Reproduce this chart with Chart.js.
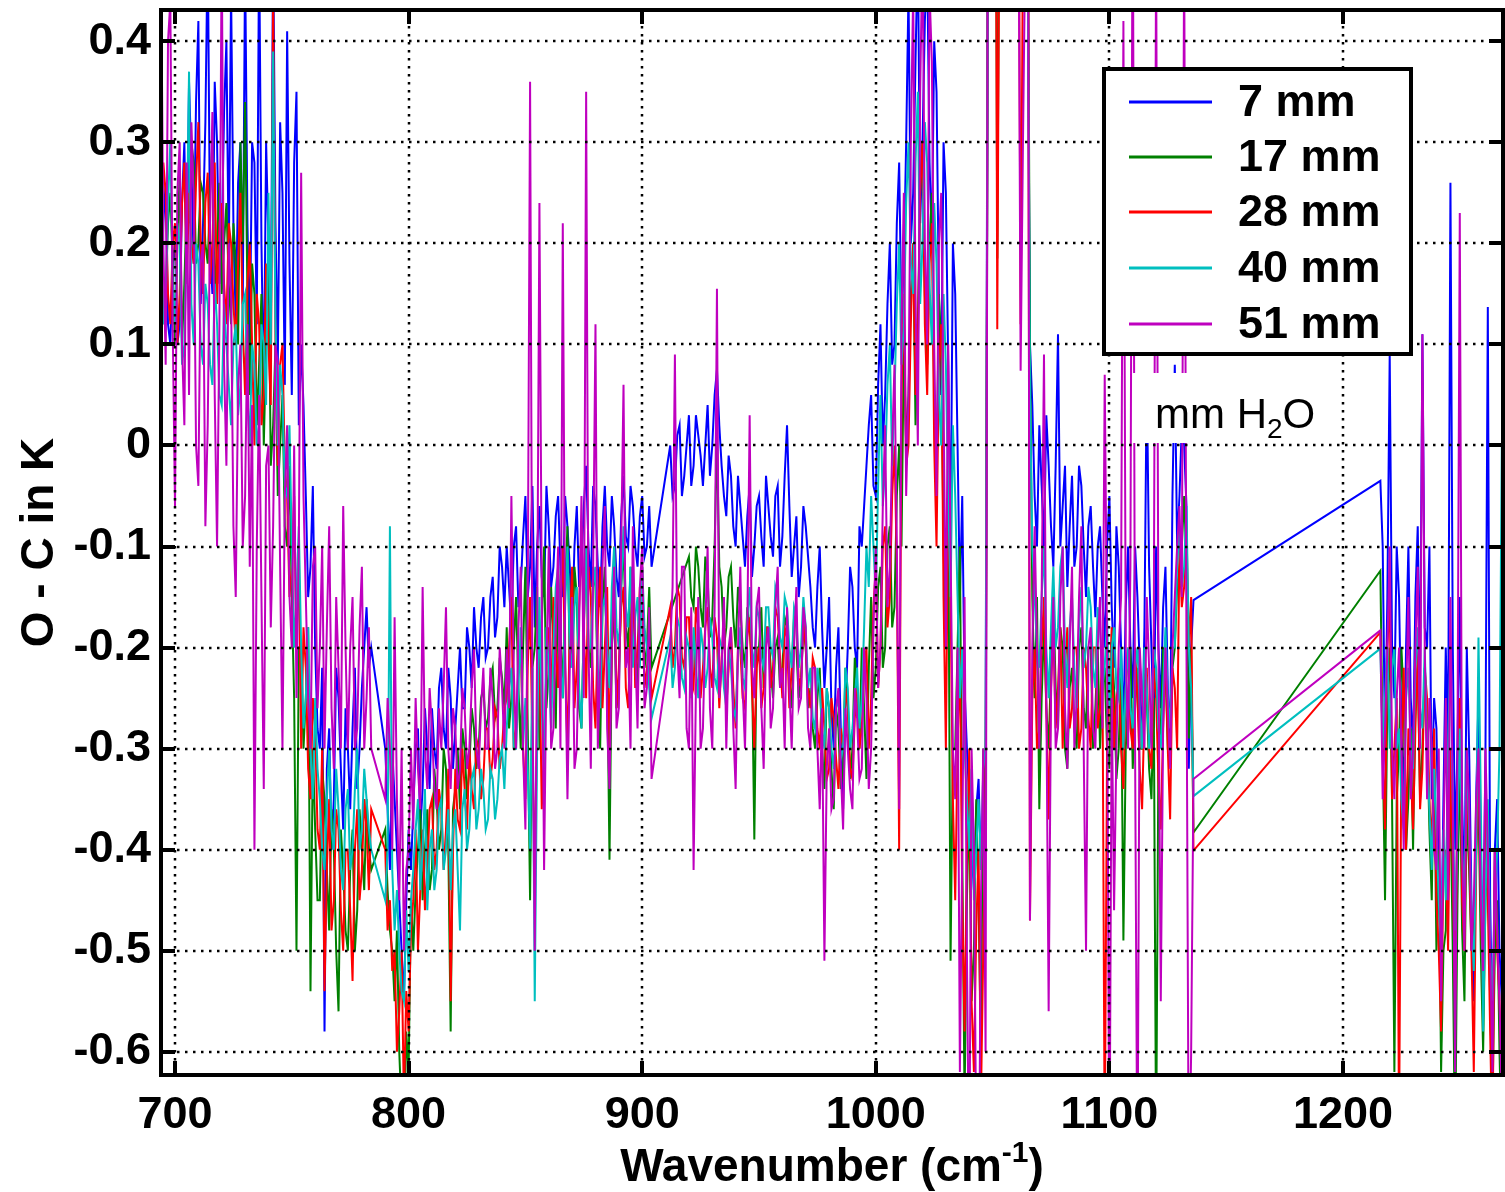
<!DOCTYPE html>
<html>
<head>
<meta charset="utf-8">
<title>O - C spectrum</title>
<script src="https://cdn.jsdelivr.net/npm/chart.js@4.4.1/dist/chart.umd.min.js"></script>
<style>
  html, body { margin: 0; padding: 0; background: #fff; }
  #wrap { width: 1505px; height: 1192px; }
</style>
</head>
<body>
<div id="wrap"><canvas id="oc_chart" width="1505" height="1192"></canvas></div>
<script>
// wavenumber grid (cm-1), no data between 1136 and 1216
const wavenumber = [
  694,695,696,697,698,699,700,701,702,703,704,705,706,707,708,709,710,711,712,713,
  714,715,716,717,718,719,720,721,722,723,724,725,726,727,728,729,730,731,732,733,
  734,735,736,737,738,739,740,741,742,743,744,745,746,747,748,749,750,751,752,753,
  754,755,756,757,758,759,760,761,762,763,764,765,766,767,768,769,770,771,772,773,
  774,775,776,777,778,779,780,781,782,783,784,785,786,787,788,789,790,791,792,793,
  794,795,796,797,798,799,800,801,802,803,804,805,806,807,808,809,810,811,812,813,
  814,815,816,817,818,819,820,821,822,823,824,825,826,827,828,829,830,831,832,833,
  834,835,836,837,838,839,840,841,842,843,844,845,846,847,848,849,850,851,852,853,
  854,855,856,857,858,859,860,861,862,863,864,865,866,867,868,869,870,871,872,873,
  874,875,876,877,878,879,880,881,882,883,884,885,886,887,888,889,890,891,892,893,
  894,895,896,897,898,899,900,901,902,903,904,905,906,907,908,909,910,911,912,913,
  914,915,916,917,918,919,920,921,922,923,924,925,926,927,928,929,930,931,932,933,
  934,935,936,937,938,939,940,941,942,943,944,945,946,947,948,949,950,951,952,953,
  954,955,956,957,958,959,960,961,962,963,964,965,966,967,968,969,970,971,972,973,
  974,975,976,977,978,979,980,981,982,983,984,985,986,987,988,989,990,991,992,993,
  994,995,996,997,998,999,1000,1001,1002,1003,1004,1005,1006,1007,1008,1009,1010,1011,1012,1013,
  1014,1015,1016,1017,1018,1019,1020,1021,1022,1023,1024,1025,1026,1027,1028,1029,1030,1031,1032,1033,
  1034,1035,1036,1037,1038,1039,1040,1041,1042,1043,1044,1045,1046,1047,1048,1049,1050,1051,1052,1053,
  1054,1055,1056,1057,1058,1059,1060,1061,1062,1063,1064,1065,1066,1067,1068,1069,1070,1071,1072,1073,
  1074,1075,1076,1077,1078,1079,1080,1081,1082,1083,1084,1085,1086,1087,1088,1089,1090,1091,1092,1093,
  1094,1095,1096,1097,1098,1099,1100,1101,1102,1103,1104,1105,1106,1107,1108,1109,1110,1111,1112,1113,
  1114,1115,1116,1117,1118,1119,1120,1121,1122,1123,1124,1125,1126,1127,1128,1129,1130,1131,1132,1133,
  1134,1135,1136,
  1216,1217,1218,1219,1220,1221,1222,1223,1224,1225,1226,1227,1228,1229,1230,1231,1232,1233,1234,1235,
  1236,1237,1238,1239,1240,1241,1242,1243,1244,1245,1246,1247,1248,1249,1250,1251,1252,1253,1254,1255,
  1256,1257,1258,1259,1260,1261,1262,1263,1264,1265,1266,1267,1268
];

// O - C in K for each precipitable water amount
const h2o7 = [
  0.15,0.22,0.26,0.12,0.1,0.18,0.2,0.1,0.12,0.24,0.3,0.16,0.36,0.28,0.18,0.34,0.42,0.14,0.22,0.32,
  0.5,0.2,0.15,0.36,0.3,0.16,0.2,0.33,0.4,0.18,0.45,0.22,0.12,0.26,0.3,0.14,0.48,0.22,0.1,0.3,
  0.28,0.12,0.5,0.2,0.05,0.3,0.2,0.1,0.5,0.22,0.08,0.32,0.25,0.06,0.41,0.18,0.05,0.28,0.35,0.02,
  0.1,0.04,-0.05,-0.15,-0.12,-0.04,-0.2,-0.28,-0.3,-0.22,-0.58,-0.32,-0.28,-0.4,-0.35,-0.22,-0.25,-0.32,-0.38,-0.26,
  -0.3,-0.36,-0.28,-0.22,-0.34,-0.3,-0.24,-0.2,-0.16,-0.22,-0.2,null,null,null,null,null,-0.3,-0.36,-0.42,-0.3,
  -0.35,-0.4,-0.45,-0.5,-0.55,-0.45,-0.38,-0.42,-0.36,-0.3,-0.28,-0.38,-0.34,-0.26,-0.3,-0.34,-0.26,-0.3,-0.32,-0.24,
  -0.22,-0.28,-0.3,-0.22,-0.25,-0.32,-0.28,-0.24,-0.2,-0.26,-0.26,-0.18,-0.2,-0.24,-0.16,-0.2,-0.22,-0.17,-0.15,-0.21,
  -0.2,-0.15,-0.13,-0.19,-0.17,-0.1,-0.12,-0.16,-0.1,-0.14,-0.18,-0.1,-0.08,-0.16,-0.14,-0.09,-0.05,-0.15,-0.12,-0.04,
  -0.18,-0.1,-0.06,-0.13,-0.15,-0.04,-0.08,-0.14,-0.12,-0.07,-0.05,-0.12,-0.15,-0.05,-0.08,-0.12,-0.18,-0.1,-0.06,-0.14,
  -0.12,-0.06,-0.02,-0.1,-0.14,-0.04,-0.06,-0.12,-0.16,-0.08,-0.04,-0.1,-0.12,-0.05,-0.08,-0.13,-0.15,-0.07,-0.03,-0.09,
  -0.1,-0.04,-0.06,-0.1,-0.12,-0.07,-0.05,-0.11,-0.1,-0.06,-0.12,null,null,null,null,null,null,null,0.0,-0.05,
  -0.04,0.01,0.02,-0.05,-0.03,0.0,0.03,-0.04,-0.02,0.03,0.01,-0.01,-0.04,0.0,0.04,-0.03,0.0,0.05,0.075,0.02,
  -0.02,-0.05,-0.07,-0.01,-0.03,-0.08,-0.1,-0.03,-0.06,-0.09,-0.12,-0.07,-0.04,-0.13,-0.1,-0.06,-0.05,-0.09,-0.12,-0.03,
  -0.06,-0.09,-0.11,-0.05,-0.04,-0.12,-0.09,-0.03,0.02,-0.06,-0.13,-0.1,-0.07,-0.15,-0.12,-0.06,-0.08,-0.11,-0.14,-0.18,
  -0.2,-0.14,-0.1,-0.18,-0.24,-0.2,-0.15,-0.26,-0.3,-0.22,-0.18,-0.28,-0.36,-0.26,-0.2,-0.12,-0.14,-0.2,-0.22,-0.08,
  -0.1,-0.06,-0.02,0.02,0.05,-0.04,-0.05,0.06,0.12,0.0,0.05,0.14,0.2,0.08,0.1,0.22,0.28,0.12,0.18,0.3,
  0.45,0.2,0.25,0.38,0.5,0.22,0.3,0.42,0.48,0.28,0.2,0.4,0.35,0.15,0.05,0.3,0.25,0.08,-0.1,0.2,
  0.15,0.0,-0.15,-0.05,-0.24,-0.3,-0.35,-0.4,-0.44,-0.36,-0.33,-0.42,-0.4,-0.3,0.6,0.8,0.8,0.9,0.6,0.8,
  0.9,0.9,0.9,0.9,0.9,0.9,0.9,0.8,0.6,0.9,0.8,0.5,0.1,0.04,-0.05,-0.1,0.02,-0.04,-0.1,0.03,
  -0.02,-0.08,-0.12,-0.02,0.11,-0.1,-0.06,-0.02,-0.14,-0.08,-0.03,-0.12,-0.1,-0.02,-0.04,-0.1,-0.15,-0.08,-0.06,-0.12,
  -0.17,-0.1,-0.08,-0.15,-0.2,-0.1,-0.05,-0.16,-0.22,-0.08,-0.12,-0.2,-0.28,-0.16,-0.1,-0.2,-0.25,-0.1,-0.15,-0.22,
  -0.3,-0.18,0.07,-0.12,-0.2,-0.28,-0.1,-0.2,-0.26,-0.16,-0.12,-0.24,-0.3,-0.05,0.08,-0.1,-0.05,0.02,0.0,-0.06,
  -0.32,-0.2,-0.153,
  -0.035,-0.1,-0.3,-0.15,0.09,-0.2,-0.25,-0.1,-0.15,-0.28,-0.35,-0.2,-0.1,-0.25,-0.3,-0.15,-0.08,-0.25,0.11,-0.18,
  -0.2,-0.1,-0.35,-0.25,-0.28,-0.4,-0.52,-0.35,-0.2,-0.3,0.26,-0.2,-0.4,-0.3,-0.15,-0.35,-0.45,-0.2,-0.3,-0.45,
  -0.55,-0.35,-0.25,-0.4,-0.5,-0.3,0.137,-0.45,-0.6,-0.4,-0.35,-0.5,-0.55
];
const h2o17 = [
  0.2,0.12,0.15,0.22,0.25,0.18,0.1,0.2,0.27,0.1,0.16,0.24,0.22,0.3,0.28,0.18,0.2,0.26,0.25,0.2,
  0.18,0.25,0.3,0.14,0.2,0.26,0.15,0.2,0.24,0.16,0.12,0.22,0.18,0.1,0.3,0.2,0.34,0.15,0.05,0.18,
  0.15,0.02,0.08,0.15,0.0,0.1,0.2,-0.02,0.02,0.1,-0.05,0.0,0.05,-0.08,-0.1,-0.02,-0.15,-0.25,-0.5,-0.2,
  -0.2,-0.3,-0.25,-0.18,-0.54,-0.3,-0.38,-0.45,-0.45,-0.32,-0.35,-0.42,-0.48,-0.36,-0.4,-0.5,-0.56,-0.38,-0.42,-0.48,
  -0.5,-0.42,-0.38,-0.5,-0.46,-0.36,-0.4,-0.44,-0.35,-0.4,-0.42,null,null,null,null,null,-0.38,-0.44,-0.48,-0.5,
  -0.55,-0.48,-0.6,-0.66,-0.7,-0.58,-0.62,-0.45,-0.5,-0.44,-0.4,-0.36,-0.45,-0.4,-0.36,-0.44,-0.42,-0.32,-0.35,-0.4,
  -0.38,-0.3,-0.32,-0.4,-0.58,-0.36,-0.34,-0.3,-0.36,-0.28,-0.3,-0.35,-0.32,-0.26,-0.28,-0.32,-0.3,-0.25,-0.24,-0.28,
  -0.27,-0.23,-0.22,-0.27,-0.26,-0.21,-0.23,-0.26,-0.18,-0.28,-0.25,-0.2,-0.15,-0.24,-0.3,-0.2,-0.12,-0.28,-0.45,-0.22,
  -0.2,-0.14,-0.3,-0.18,-0.1,-0.26,-0.22,-0.14,-0.2,-0.28,-0.12,-0.18,-0.25,-0.14,-0.08,-0.22,-0.2,-0.12,-0.15,-0.26,
  -0.28,-0.18,-0.1,-0.2,-0.22,-0.12,-0.14,-0.24,-0.3,-0.16,-0.12,-0.22,-0.41,-0.2,-0.16,-0.26,-0.24,-0.14,-0.1,-0.18,
  -0.2,-0.12,-0.14,-0.2,-0.24,-0.16,-0.12,-0.22,-0.2,-0.14,-0.22,null,null,null,null,null,null,null,null,null,
  null,null,null,null,null,null,-0.11,-0.15,-0.16,-0.1,-0.12,-0.16,-0.18,-0.11,-0.13,-0.19,-0.17,-0.1,0.01,-0.12,
  -0.14,-0.2,-0.18,-0.13,-0.12,-0.17,-0.2,-0.14,-0.16,-0.2,-0.22,-0.16,-0.18,-0.22,-0.39,-0.2,-0.2,-0.16,-0.24,-0.18,
  -0.18,-0.22,-0.25,-0.2,-0.19,-0.24,-0.22,-0.17,-0.18,-0.23,-0.26,-0.2,-0.2,-0.25,-0.23,-0.18,-0.2,-0.26,-0.24,-0.28,
  -0.3,-0.25,-0.22,-0.3,-0.34,-0.24,-0.26,-0.32,-0.36,-0.26,-0.28,-0.34,-0.32,-0.22,-0.25,-0.33,-0.3,-0.21,-0.24,-0.3,
  -0.2,-0.26,-0.33,-0.22,-0.15,-0.25,-0.22,-0.14,-0.12,-0.22,-0.2,-0.1,-0.08,-0.18,-0.16,-0.05,0.0,-0.1,0.1,0.0,
  0.05,0.15,0.2,0.02,0.12,0.25,0.3,0.15,0.08,0.2,0.25,0.05,-0.05,0.15,0.1,-0.1,-0.2,-0.05,-0.51,-0.3,
  -0.3,-0.2,-0.1,-0.4,-0.65,-0.45,-0.35,-0.55,-0.5,-0.35,-0.45,-0.6,-0.3,-0.4,0.5,0.8,0.8,0.9,0.185,0.6,
  0.6,0.9,0.9,0.9,0.9,0.9,0.9,0.8,0.5,0.9,0.7,0.6,0.1,-0.15,-0.25,-0.15,-0.36,-0.25,-0.18,-0.26,
  -0.3,-0.22,-0.15,-0.24,-0.28,-0.18,-0.2,-0.3,-0.32,-0.24,-0.22,-0.28,-0.3,-0.2,-0.18,-0.26,-0.28,-0.2,-0.2,-0.3,
  -0.26,-0.2,-0.3,-0.24,-0.22,-0.3,-0.32,-0.2,-0.24,-0.33,-0.3,-0.22,-0.49,-0.3,-0.25,-0.2,-0.32,-0.26,-0.22,-0.3,
  -0.3,-0.22,-0.25,-0.32,-0.35,-0.25,-0.7,-0.3,-0.28,-0.2,-0.22,-0.3,-0.3,-0.22,-0.2,-0.14,-0.12,-0.1,-0.05,-0.12,
  -0.29,-0.2,-0.383,
  -0.124,-0.3,-0.45,-0.25,-0.2,-0.35,-0.62,-0.35,-0.3,-0.2,-0.25,-0.4,-0.35,-0.28,-0.4,-0.25,-0.22,-0.35,-0.3,-0.22,
  -0.28,-0.38,-0.45,-0.3,-0.5,-0.4,-0.62,-0.5,-0.48,-0.3,-0.35,-0.5,-0.7,-0.45,-0.3,-0.48,-0.55,-0.35,-0.42,-0.5,
  -0.48,-0.4,-0.35,-0.5,-0.6,-0.45,-0.4,-0.55,-0.65,-0.5,-0.45,-0.6,-0.7
];
const h2o28 = [
  0.18,0.28,0.25,0.15,0.12,0.2,0.22,0.1,0.15,0.24,0.28,0.16,0.25,0.2,0.18,0.26,0.32,0.2,0.15,0.24,
  0.27,0.16,0.2,0.28,0.14,0.22,0.24,0.16,0.12,0.22,0.2,0.14,0.1,0.18,0.25,0.12,0.05,0.16,0.2,0.1,
  0.0,0.15,0.12,0.02,0.05,0.18,0.1,0.04,0.45,0.1,-0.02,0.08,0.1,-0.02,-0.05,-0.15,-0.12,-0.05,-0.2,-0.1,
  -0.3,-0.18,-0.22,-0.32,-0.35,-0.25,-0.28,-0.38,-0.4,-0.3,-0.54,-0.42,-0.35,-0.48,-0.45,-0.36,-0.38,-0.46,-0.5,-0.4,
  -0.4,-0.46,-0.53,-0.4,-0.36,-0.45,-0.42,-0.35,-0.38,-0.44,-0.36,null,null,null,null,null,-0.4,-0.48,-0.45,-0.52,
  -0.5,-0.6,-0.56,-0.5,-0.65,-0.54,-0.58,-0.48,-0.45,-0.38,-0.5,-0.44,-0.38,-0.46,-0.42,-0.36,-0.35,-0.42,-0.4,-0.34,
  -0.36,-0.42,-0.38,-0.32,-0.55,-0.4,-0.32,-0.37,-0.38,-0.3,-0.34,-0.38,-0.3,-0.34,-0.36,-0.29,-0.3,-0.35,-0.33,-0.28,
  -0.28,-0.33,-0.31,-0.26,-0.27,-0.32,-0.3,-0.26,-0.25,-0.2,-0.15,-0.3,-0.28,-0.22,-0.2,-0.3,-0.35,-0.22,-0.15,-0.3,
  -0.42,-0.28,-0.2,-0.36,-0.3,-0.22,-0.18,-0.26,-0.15,-0.2,-0.24,-0.16,-0.1,-0.22,-0.3,-0.18,-0.12,-0.26,-0.22,-0.16,
  -0.08,-0.18,-0.25,-0.12,-0.15,-0.24,-0.28,-0.18,-0.12,-0.26,-0.2,-0.14,-0.3,-0.2,-0.1,-0.26,-0.22,-0.16,-0.14,-0.24,
  -0.26,-0.18,-0.12,-0.24,-0.2,-0.14,-0.16,-0.24,-0.22,-0.2,-0.25,null,null,null,null,null,null,null,-0.16,-0.22,
  -0.2,-0.14,-0.15,-0.21,-0.22,-0.17,-0.17,-0.23,-0.24,-0.16,-0.18,-0.25,-0.22,-0.18,-0.16,-0.22,-0.24,-0.17,-0.19,-0.26,
  -0.21,-0.17,-0.26,-0.22,-0.18,-0.24,-0.28,-0.2,-0.2,-0.25,-0.26,-0.19,-0.17,-0.24,-0.3,-0.22,-0.2,-0.26,-0.24,-0.18,
  -0.18,-0.24,-0.22,-0.16,-0.17,-0.21,-0.25,-0.18,-0.19,-0.26,-0.22,-0.17,-0.18,-0.23,-0.24,-0.17,-0.2,-0.24,-0.26,-0.21,
  -0.22,-0.28,-0.3,-0.24,-0.28,-0.33,-0.32,-0.25,-0.27,-0.31,-0.34,-0.28,-0.3,-0.24,-0.26,-0.32,-0.33,-0.27,-0.24,-0.3,
  -0.28,-0.22,-0.2,-0.3,-0.25,-0.16,-0.12,-0.24,-0.2,-0.1,-0.08,-0.18,-0.15,-0.05,0.0,-0.12,-0.4,0.05,0.15,-0.02,
  0.0,0.12,0.2,0.05,0.1,0.25,0.3,0.12,0.05,0.18,0.22,0.0,-0.1,0.08,0.12,-0.15,-0.3,-0.05,-0.15,-0.35,
  -0.45,-0.3,-0.2,-0.45,-0.58,-0.4,-0.3,-0.55,-0.62,-0.48,-0.4,-0.65,-0.5,-0.35,0.55,0.8,0.8,0.9,0.115,0.6,
  0.7,0.9,0.9,0.9,0.9,0.9,0.9,0.7,0.12,0.5,0.6,0.8,-0.47,-0.25,-0.2,-0.3,-0.28,-0.2,-0.15,-0.26,
  -0.37,-0.24,-0.18,-0.28,-0.24,-0.18,-0.3,-0.22,-0.18,-0.28,-0.26,-0.2,-0.2,-0.3,-0.28,-0.2,-0.22,-0.27,-0.3,-0.2,
  -0.2,-0.28,-0.26,-0.2,-0.7,-0.3,-0.24,-0.18,-0.3,-0.25,-0.22,-0.3,-0.34,-0.24,-0.2,-0.28,-0.3,-0.2,-0.25,-0.32,
  -0.36,-0.26,-0.22,-0.3,-0.32,-0.22,-0.25,-0.33,-0.38,-0.28,-0.2,-0.3,-0.37,-0.22,-0.24,-0.3,-0.1,-0.16,-0.14,-0.08,
  -0.2,-0.15,-0.401,
  -0.185,-0.3,-0.38,-0.2,-0.15,-0.35,-0.3,-0.25,-0.68,-0.3,-0.22,-0.4,-0.28,-0.32,-0.38,-0.28,-0.2,-0.36,-0.32,-0.22,
  -0.25,-0.35,-0.4,-0.28,-0.45,-0.5,-0.58,-0.42,-0.4,-0.5,-0.3,-0.42,-0.55,-0.35,-0.25,-0.45,-0.5,-0.32,-0.4,-0.5,
  -0.62,-0.42,-0.3,-0.45,-0.55,-0.35,-0.45,-0.58,-0.7,-0.4,-0.5,-0.55,-0.62
];
const h2o40 = [
  0.22,0.12,0.14,0.24,0.3,0.16,0.12,0.22,0.2,0.08,0.1,0.2,0.37,0.14,0.1,0.2,0.18,0.1,0.08,0.16,
  0.14,0.08,0.06,0.16,0.12,0.05,0.04,0.14,0.1,0.06,0.02,0.1,0.12,0.03,0.06,0.14,0.15,0.05,0.0,0.1,
  0.08,0.0,0.02,0.12,0.1,0.04,0.25,0.1,0.39,0.12,0.0,0.08,0.05,-0.04,-0.05,0.02,-0.1,-0.2,-0.15,-0.08,
  -0.2,-0.28,-0.25,-0.18,-0.3,-0.35,-0.25,-0.32,-0.35,-0.4,-0.42,-0.35,-0.3,-0.38,-0.4,-0.32,-0.36,-0.42,-0.44,-0.36,
  -0.34,-0.42,-0.4,-0.34,-0.3,-0.4,-0.38,-0.32,-0.35,-0.38,-0.4,null,null,null,null,null,-0.45,-0.4,-0.08,-0.42,
  -0.48,-0.44,-0.5,-0.54,-0.55,-0.46,-0.52,-0.45,-0.42,-0.38,-0.35,-0.44,-0.4,-0.34,-0.46,-0.4,-0.38,-0.44,-0.42,-0.36,
  -0.35,-0.42,-0.4,-0.36,-0.44,-0.38,-0.36,-0.42,-0.48,-0.36,-0.34,-0.4,-0.38,-0.33,-0.32,-0.38,-0.36,-0.32,-0.34,-0.38,
  -0.37,-0.32,-0.33,-0.37,-0.35,-0.31,-0.3,-0.34,-0.28,-0.24,-0.22,-0.3,-0.3,-0.24,-0.18,-0.3,-0.25,-0.32,-0.4,-0.22,
  -0.55,-0.3,-0.15,-0.26,-0.32,-0.18,-0.22,-0.28,-0.2,-0.14,-0.12,-0.22,-0.25,-0.16,-0.1,-0.2,-0.22,-0.16,-0.14,-0.24,
  -0.28,-0.18,-0.1,-0.2,-0.2,-0.14,-0.12,-0.22,-0.26,-0.16,-0.15,-0.2,-0.24,-0.14,-0.1,-0.18,-0.2,-0.14,-0.08,-0.16,
  -0.18,-0.12,-0.22,-0.17,-0.15,-0.22,-0.12,-0.18,-0.2,-0.24,-0.27,null,null,null,null,null,null,null,-0.19,-0.24,
  -0.22,-0.17,-0.18,-0.23,-0.24,-0.19,-0.2,-0.25,-0.18,-0.22,-0.25,-0.18,-0.2,-0.24,-0.22,-0.17,-0.19,-0.23,-0.24,-0.19,
  -0.2,-0.24,-0.26,-0.2,-0.22,-0.26,-0.27,-0.21,-0.18,-0.23,-0.24,-0.17,-0.14,-0.2,-0.22,-0.16,-0.17,-0.21,-0.22,-0.16,
  -0.16,-0.2,-0.21,-0.14,-0.15,-0.19,-0.2,-0.15,-0.16,-0.2,-0.22,-0.16,-0.17,-0.22,-0.2,-0.15,-0.18,-0.24,-0.22,-0.27,
  -0.28,-0.22,-0.24,-0.28,-0.3,-0.24,-0.26,-0.3,-0.32,-0.26,-0.25,-0.31,-0.3,-0.22,-0.24,-0.3,-0.28,-0.25,-0.22,-0.28,
  -0.25,-0.18,-0.1,-0.14,-0.05,-0.1,-0.15,-0.04,0.05,-0.06,-0.02,0.06,0.1,-0.02,0.05,0.14,0.2,0.08,0.12,0.24,
  0.3,0.18,0.15,0.28,0.35,0.14,0.2,0.32,0.28,0.16,0.1,0.24,0.18,0.05,0.0,0.15,0.08,-0.05,-0.15,0.02,
  -0.05,-0.15,-0.25,-0.2,-0.3,-0.35,-0.4,-0.32,-0.45,-0.4,-0.35,-0.42,-0.32,-0.3,0.5,0.8,0.8,0.9,0.5,0.8,
  0.8,0.9,0.9,0.9,0.9,0.9,0.9,0.8,0.6,0.9,0.8,0.5,0.05,-0.1,-0.15,-0.2,-0.22,-0.15,-0.1,-0.2,
  -0.25,-0.18,-0.12,-0.2,-0.18,-0.12,-0.1,-0.2,-0.24,-0.18,-0.15,-0.22,-0.26,-0.18,-0.14,-0.22,-0.2,-0.14,-0.16,-0.22,
  -0.24,-0.16,-0.18,-0.24,-0.22,-0.17,-0.26,-0.2,-0.18,-0.24,-0.25,-0.2,-0.3,-0.24,-0.2,-0.26,-0.28,-0.22,-0.2,-0.26,
  -0.3,-0.2,-0.24,-0.3,-0.28,-0.2,-0.22,-0.28,-0.3,-0.24,-0.18,-0.25,-0.28,-0.2,-0.2,-0.12,-0.08,-0.14,-0.12,-0.06,
  -0.2,-0.24,-0.347,
  -0.201,-0.3,-0.25,-0.2,-0.3,-0.22,-0.2,-0.3,-0.28,-0.35,-0.38,-0.25,-0.22,-0.3,-0.32,-0.22,-0.18,-0.26,-0.28,-0.2,
  -0.3,-0.36,-0.42,-0.32,-0.38,-0.45,-0.5,-0.38,-0.45,-0.3,-0.2,-0.35,-0.48,-0.38,-0.28,-0.4,-0.45,-0.3,-0.38,-0.46,
  -0.52,-0.4,-0.19,-0.35,-0.58,-0.45,-0.35,-0.5,-0.55,-0.45,-0.4,-0.3,0.0
];
const h2o51 = [
  0.48,0.2,0.08,0.4,0.44,0.12,-0.06,0.25,0.3,0.1,0.02,0.28,0.05,0.32,0.25,0.0,-0.04,0.18,0.2,-0.08,
  0.02,0.22,0.33,0.05,-0.1,0.12,0.5,0.08,-0.02,0.2,0.15,-0.08,-0.15,0.06,0.1,-0.1,-0.05,0.12,-0.12,0.04,
  -0.4,-0.1,0.05,-0.15,-0.34,-0.02,0.0,-0.18,-0.08,0.1,0.08,-0.12,-0.3,-0.05,0.02,-0.15,-0.2,0.0,-0.25,-0.1,
  0.27,-0.05,-0.15,-0.25,-0.3,-0.12,-0.1,-0.26,-0.2,-0.1,-0.3,-0.18,-0.08,-0.26,-0.32,-0.15,-0.22,-0.3,-0.06,-0.2,
  -0.3,-0.2,-0.15,-0.3,-0.28,-0.18,-0.12,-0.3,-0.25,-0.18,-0.3,null,null,null,null,null,-0.35,-0.25,-0.3,-0.4,
  -0.17,-0.35,-0.45,-0.3,-0.5,-0.42,-0.4,-0.3,-0.38,-0.25,-0.32,-0.36,-0.14,-0.3,-0.34,-0.24,-0.28,-0.34,-0.36,-0.26,
  -0.3,-0.24,-0.16,-0.3,-0.34,-0.26,-0.28,-0.34,-0.32,-0.24,-0.26,-0.32,-0.3,-0.24,-0.2,-0.3,-0.32,-0.26,-0.22,-0.3,
  -0.3,-0.22,-0.25,-0.32,-0.3,-0.2,-0.24,-0.3,-0.2,-0.26,-0.05,-0.22,-0.3,-0.18,-0.12,-0.3,-0.38,-0.15,0.36,-0.25,
  -0.5,-0.2,0.24,-0.15,-0.42,-0.22,-0.1,-0.3,-0.28,-0.18,-0.1,-0.3,0.22,-0.2,-0.35,-0.22,-0.15,-0.32,-0.3,-0.18,
  -0.05,-0.25,0.35,-0.2,-0.32,-0.12,0.12,-0.3,-0.22,-0.12,-0.06,-0.28,-0.34,-0.2,-0.12,-0.28,-0.26,-0.1,0.06,-0.22,
  -0.2,-0.3,-0.08,-0.2,-0.28,-0.14,-0.1,-0.26,-0.24,-0.16,-0.33,null,null,null,null,null,null,null,-0.2,-0.14,
  0.09,-0.2,-0.25,-0.12,-0.12,-0.28,-0.3,-0.16,-0.42,-0.24,-0.15,-0.3,-0.28,-0.18,-0.1,-0.26,-0.3,-0.16,0.155,-0.25,
  -0.22,-0.15,-0.3,-0.2,-0.18,-0.28,-0.34,-0.2,-0.12,-0.24,-0.3,-0.18,0.03,-0.22,-0.25,-0.16,-0.14,-0.26,-0.32,-0.2,
  -0.18,-0.28,-0.26,-0.16,-0.12,-0.24,-0.22,-0.3,-0.16,-0.24,-0.3,-0.2,-0.14,-0.26,-0.25,-0.16,-0.18,-0.28,-0.3,-0.22,
  -0.22,-0.3,-0.36,-0.26,-0.51,-0.32,-0.28,-0.36,-0.35,-0.26,-0.24,-0.32,-0.38,-0.26,-0.3,-0.34,-0.36,-0.24,-0.27,-0.33,
  -0.32,-0.2,-0.25,-0.34,-0.3,-0.18,-0.1,-0.24,-0.2,-0.06,0.02,-0.16,-0.12,0.0,0.08,-0.1,-0.36,0.12,0.25,-0.05,
  0.05,0.3,0.45,0.15,0.0,0.35,0.5,0.2,0.1,0.45,0.38,0.1,-0.05,0.2,0.25,0.05,-0.2,0.1,-0.1,-0.3,
  -0.35,-0.2,-0.62,-0.4,-0.15,-0.5,-0.75,-0.3,-0.4,-0.7,-0.8,-0.45,-0.3,-0.6,0.6,0.8,0.8,0.9,0.6,0.8,
  0.9,0.9,0.9,0.9,0.9,0.9,0.9,0.6,0.074,0.3,0.5,0.8,-0.47,-0.2,-0.08,-0.2,-0.3,-0.15,0.09,-0.25,
  -0.56,-0.25,-0.15,-0.3,-0.28,-0.15,-0.1,-0.26,-0.32,-0.2,-0.12,-0.3,-0.25,-0.15,-0.08,-0.3,-0.5,-0.2,-0.18,-0.28,
  -0.3,-0.2,-0.15,-0.28,0.07,-0.2,-0.75,-0.25,-0.46,-0.3,-0.2,-0.15,0.42,-0.2,-0.3,-0.12,0.6,-0.3,-0.75,-0.2,
  -0.25,-0.3,-0.15,-0.22,-0.3,-0.18,0.5,-0.2,-0.55,-0.28,-0.2,-0.26,-0.32,-0.2,-0.15,-0.1,-0.06,-0.15,0.5,-0.2,
  -0.75,-0.6,-0.33,
  -0.183,-0.35,-0.28,-0.2,-0.1,-0.3,-0.35,-0.25,-0.2,-0.3,-0.4,-0.25,-0.15,-0.35,-0.3,-0.2,-0.12,-0.3,0.11,-0.2,
  -0.35,-0.25,-0.3,-0.4,-0.42,-0.3,-0.55,-0.4,-0.25,-0.45,-0.15,-0.35,-0.62,-0.3,0.23,-0.4,-0.5,-0.3,-0.35,-0.5,
  -0.45,-0.35,-0.3,-0.45,-0.52,-0.3,-0.4,-0.5,-0.62,-0.4,-0.48,-0.55,-0.65
];

const seriesLabels = ["7 mm", "17 mm", "28 mm", "40 mm", "51 mm"];
const seriesColors = ["#0000ff", "#008000", "#ff0000", "#00bfbf", "#bf00bf"];
const xTicks = [700, 800, 900, 1000, 1100, 1200];
const yTicks = [-0.6, -0.5, -0.4, -0.3, -0.2, -0.1, 0, 0.1, 0.2, 0.3, 0.4];
const yTickLabels = ["-0.6", "-0.5", "-0.4", "-0.3", "-0.2", "-0.1", "0", "0.1", "0.2", "0.3", "0.4"];

const FONT = '"Liberation Sans", Arial, Helvetica, sans-serif';

const seriesValues = [h2o7, h2o17, h2o28, h2o40, h2o51];
const datasets = seriesValues.map(function(vals, i) {
    return {
        label: seriesLabels[i],
        data: wavenumber.map((w, j) => ({ x: w, y: vals[j] })),
        borderColor: seriesColors[i],
        borderWidth: 2,
        pointRadius: 0,
        fill: false,
        tension: 0,
        spanGaps: true,
        order: 5 - i   // magenta ends up on top
    };
});

// dotted grid, inward ticks, frame, legend and titles
const framePlugin = {
    id: "frame",
    afterDraw(chart) {
        const ctx = chart.ctx;
        const a = chart.chartArea;
        const xs = chart.scales.x, ys = chart.scales.y;
        ctx.save();
        ctx.strokeStyle = "#000";

        ctx.lineWidth = 2.5;
        ctx.setLineDash([2.5, 5.5]);
        xTicks.forEach(v => {
            const px = Math.round(xs.getPixelForValue(v));
            ctx.beginPath(); ctx.moveTo(px, a.top); ctx.lineTo(px, a.bottom); ctx.stroke();
        });
        yTicks.forEach(v => {
            const py = Math.round(ys.getPixelForValue(v));
            ctx.beginPath(); ctx.moveTo(a.left, py); ctx.lineTo(a.right, py); ctx.stroke();
        });
        ctx.setLineDash([]);

        ctx.lineWidth = 4;
        ctx.beginPath();
        xTicks.forEach(v => {
            const px = Math.round(xs.getPixelForValue(v));
            ctx.moveTo(px, a.bottom); ctx.lineTo(px, a.bottom - 14);
            ctx.moveTo(px, a.top); ctx.lineTo(px, a.top + 14);
        });
        yTicks.forEach(v => {
            const py = Math.round(ys.getPixelForValue(v));
            ctx.moveTo(a.left, py); ctx.lineTo(a.left + 14, py);
            ctx.moveTo(a.right, py); ctx.lineTo(a.right - 14, py);
        });
        ctx.stroke();
        ctx.strokeRect(a.left, a.top, a.right - a.left, a.bottom - a.top);

        // legend
        ctx.fillStyle = "#fff";
        ctx.fillRect(1104, 69, 307, 285);
        ctx.lineWidth = 4;
        ctx.strokeRect(1104, 69, 307, 285);
        const rowY = [102, 157, 212, 268, 324];
        ctx.font = "bold 45px " + FONT;
        ctx.textAlign = "left";
        ctx.textBaseline = "middle";
        chart.data.datasets.forEach((ds, i) => {
            ctx.strokeStyle = ds.borderColor;
            ctx.lineWidth = 3;
            ctx.beginPath(); ctx.moveTo(1129, rowY[i]); ctx.lineTo(1212, rowY[i]); ctx.stroke();
            ctx.fillStyle = "#000";
            ctx.fillText(ds.label, 1238, rowY[i] + 2);
        });

        // units note
        ctx.fillStyle = "#fff";
        ctx.fillRect(1133, 373, 198, 70);
        ctx.fillStyle = "#000";
        ctx.textBaseline = "alphabetic";
        ctx.font = "42px " + FONT;
        let tx = 1155;
        ctx.fillText("mm H", tx, 428);
        tx += ctx.measureText("mm H").width;
        ctx.font = "28px " + FONT;
        ctx.fillText("2", tx, 438);
        tx += ctx.measureText("2").width;
        ctx.font = "42px " + FONT;
        ctx.fillText("O", tx, 428);

        // x title with superscript
        const mainTxt = "Wavenumber (cm", supTxt = "-1", endTxt = ")";
        ctx.font = "bold 46px " + FONT;
        const w1 = ctx.measureText(mainTxt).width, w3 = ctx.measureText(endTxt).width;
        ctx.font = "bold 30px " + FONT;
        const w2 = ctx.measureText(supTxt).width;
        let sx = (a.left + a.right) / 2 - (w1 + w2 + w3) / 2;
        const base = 1181;
        ctx.font = "bold 46px " + FONT;
        ctx.fillText(mainTxt, sx, base);
        sx += w1;
        ctx.font = "bold 30px " + FONT;
        ctx.fillText(supTxt, sx, base - 19);
        sx += w2;
        ctx.font = "bold 46px " + FONT;
        ctx.fillText(endTxt, sx, base);

        // y title
        ctx.translate(40, (a.top + a.bottom) / 2);
        ctx.rotate(-Math.PI / 2);
        ctx.textAlign = "center";
        ctx.textBaseline = "middle";
        ctx.font = "bold 46px " + FONT;
        ctx.fillText("O - C in K", 0, 0);
        ctx.restore();
    }
};

const config = {
    type: "line",
    data: { datasets: datasets },
    options: {
        responsive: false,
        animation: false,
        devicePixelRatio: 1,
        layout: { padding: { top: 10, right: 2, left: 0, bottom: 0 } },
        plugins: { legend: { display: false }, tooltip: { enabled: false } },
        scales: {
            x: {
                type: "linear",
                min: 694,
                max: 1268.5,
                afterBuildTicks: s => { s.ticks = xTicks.map(v => ({ value: v })); },
                afterFit: s => { s.height = 117; s.paddingLeft = 0; s.paddingRight = 0; },
                grid: { display: false, drawTicks: false },
                border: { display: false },
                ticks: {
                    autoSkip: false, maxRotation: 0, padding: 14, color: "#000",
                    font: { family: FONT, size: 45, weight: "bold" },
                    callback: v => String(v)
                }
            },
            y: {
                type: "linear",
                min: -0.623,
                max: 0.431,
                afterBuildTicks: s => { s.ticks = yTicks.map(v => ({ value: v })); },
                afterFit: s => { s.width = 161; s.paddingTop = 0; s.paddingBottom = 0; },
                grid: { display: false, drawTicks: false },
                border: { display: false },
                ticks: {
                    autoSkip: false, padding: 10, color: "#000",
                    font: { family: FONT, size: 45, weight: "bold" },
                    callback: (v, i) => yTickLabels[i]
                }
            }
        }
    },
    plugins: [framePlugin]
};

window.addEventListener("DOMContentLoaded", function() {
    new Chart(document.getElementById("oc_chart"), config);
});
</script>
</body>
</html>
